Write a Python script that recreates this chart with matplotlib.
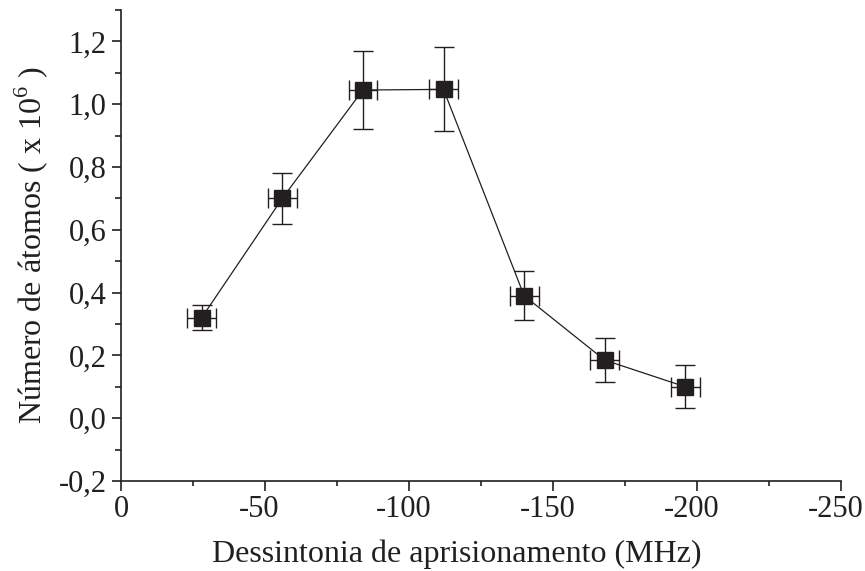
import numpy as np
import matplotlib.pyplot as plt
from matplotlib.ticker import MultipleLocator, FuncFormatter
from matplotlib.transforms import ScaledTranslation

plt.rcParams['font.family'] = ['Liberation Serif', 'DejaVu Serif']
plt.rcParams['mathtext.fontset'] = 'custom'
plt.rcParams['mathtext.rm'] = 'Liberation Serif'
plt.rcParams['axes.unicode_minus'] = False

# dessintonia (MHz) e numero de atomos (x 10^6)
dessintonia = [-28, -56, -84, -112, -140, -168, -196]
n_atomos = [0.32, 0.70, 1.045, 1.047, 0.39, 0.185, 0.10]
erro_n = [0.04, 0.082, 0.125, 0.134, 0.078, 0.07, 0.068]
erro_d = [5, 5, 5, 5, 5, 5, 5]

cor = '#231f20'

fig = plt.figure(figsize=(8.65, 5.71), dpi=100)
ax = fig.add_axes([0.14, 0.1576, 0.832, 0.825])

ax.plot(dessintonia, n_atomos, '-', color=cor, lw=0.9, zorder=2)
ax.errorbar(dessintonia, n_atomos, yerr=erro_n, xerr=erro_d, fmt='s',
            color=cor, ms=11.5, ecolor=cor, elinewidth=1.0,
            capsize=7.2, capthick=1.0, zorder=3)

ax.set_xlim(0, -250)
ax.set_ylim(-0.2, 1.3)
ax.xaxis.set_major_locator(MultipleLocator(50))
ax.xaxis.set_minor_locator(MultipleLocator(25))
ax.yaxis.set_major_locator(MultipleLocator(0.2))
ax.yaxis.set_minor_locator(MultipleLocator(0.1))
ax.xaxis.set_major_formatter(FuncFormatter(lambda v, p: '%d' % round(v)))
ax.yaxis.set_major_formatter(FuncFormatter(
    lambda v, p: ('%.1f' % v).replace('.', ',').replace('-0,0', '0,0')))

for s in ['top', 'right']:
    ax.spines[s].set_visible(False)
for s in ['left', 'bottom']:
    ax.spines[s].set_linewidth(1.2)
    ax.spines[s].set_color(cor)

ax.tick_params(axis='x', which='major', direction='out', length=7, width=1.2,
               labelsize=22, colors=cor, pad=3)
ax.tick_params(axis='x', which='minor', direction='out', length=3.6,
               width=1.2, colors=cor)
ax.tick_params(axis='y', which='major', direction='out', length=6.5,
               width=1.2, labelsize=22, colors=cor, pad=4)
ax.tick_params(axis='y', which='minor', direction='out', length=4,
               width=1.2, colors=cor)

ax.set_xlabel('Dessintonia de aprisionamento (MHz)', fontsize=23, color=cor)
ax.set_ylabel(r'Número de átomos ( x 10$^6$ )', fontsize=23, color=cor)
ax.xaxis.set_label_coords(0.467, -0.124)
ax.yaxis.set_label_coords(-0.0986, 0.5)

# rotulos negativos do eixo x ficam um pouco a esquerda
fig.canvas.draw()
desloc = ScaledTranslation(-5.5 / 100, 0, fig.dpi_scale_trans)
for t in ax.xaxis.get_major_ticks():
    if t.label1.get_text().startswith('-'):
        t.label1.set_transform(t.label1.get_transform() + desloc)

fig.savefig('out.png', dpi=100)
